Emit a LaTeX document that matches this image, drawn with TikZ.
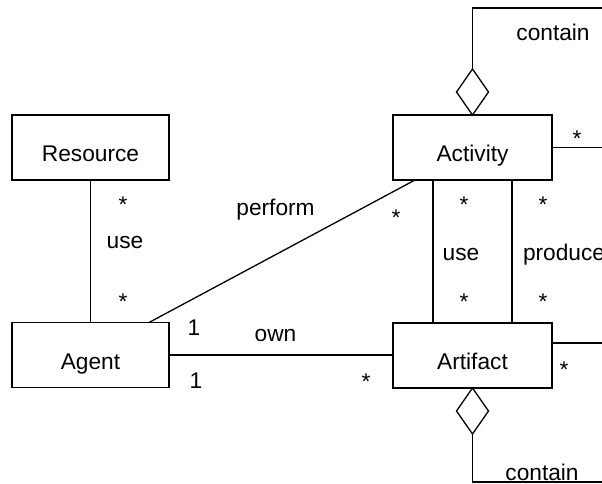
\documentclass[tikz,border=0pt]{standalone}
\usepackage{fontspec}
\setmainfont{Liberation Sans}
\usetikzlibrary{shapes.geometric}
\begin{document}
\begin{tikzpicture}[x=1pt,y=-1pt,
  every node/.style={font=\fontsize{22.7}{27}\selectfont, outer sep=0pt},
  conn/.style={line width=1.3pt},
  classbox/.style={draw, line width=1.3pt, rectangle, minimum width=157pt,
    minimum height=65pt, inner sep=0pt, text height=28.4pt, text depth=0pt},
  aggr/.style={draw, line width=1.3pt, diamond, fill=white, inner sep=0pt,
    minimum width=32pt, minimum height=46pt},
  lbl/.style={anchor=base, inner sep=0pt}
]
\path[use as bounding box, clip] (0,0) rectangle (602,483);

% classes
\node[classbox] (resource) at (90.5,147.5) {Resource};
\node[classbox] (agent) at (90.5,355) {Agent};
\node[classbox, minimum width=159pt] (activity) at (472.5,147.5) {Activity};
\node[classbox, minimum width=159pt] (artifact) at (472.5,355.5) {Artifact};

% free ends of the self associations (beyond the right edge)
\coordinate (edgetop) at (625,8);
\coordinate (edgebot) at (625,482);
\coordinate (edgeright) at (625,0);
\coordinate (artout) at ([yshift=12.5pt]artifact.east);

% associations
\draw[conn] (resource) -- (agent);
\draw[conn] ([xshift=-20pt]agent.north east) -- ([xshift=22pt]activity.south west);
\draw[conn] (agent.east) -- (agent.east -| artifact.west);
\draw[conn] ([xshift=40pt]activity.south west) -- ([xshift=40pt]artifact.north west);
\draw[conn] ([xshift=-40pt]activity.south east) -- ([xshift=-40pt]artifact.north east);
\draw[conn] (activity.east) -- (activity.east -| edgeright);
\draw[conn] (artout) -- (artout -| edgeright);

% aggregations
\node[aggr, anchor=south] (actagg) at (activity.north) {};
\node[aggr, anchor=north] (artagg) at (artifact.south) {};
\draw[conn] (actagg.north) |- (edgetop);
\draw[conn] (artagg.south) |- (edgebot);

% role names and multiplicities
\node[lbl] (l1) at (553,40.5) {contain};
\node[lbl] (l2) at (577,146) {*};
\node[lbl] (l3) at (123,212) {*};
\node[lbl] (l4) at (125,248) {use};
\node[lbl] (l5) at (123,309) {*};
\node[lbl] (l6) at (275.5,215.5) {perform};
\node[lbl] (l7) at (396,225) {*};
\node[lbl] (l8) at (464,212) {*};
\node[lbl] (l9) at (464,309) {*};
\node[lbl] (l10) at (461,260.5) {use};
\node[lbl] (l11) at (543,212) {*};
\node[lbl] (l12) at (543,309) {*};
\node[lbl, anchor=base west] (l13) at (523,260.5) {produce};
\node[lbl] (l14) at (194,335.5) {1};
\node[lbl] (l15) at (275.5,341.5) {own};
\node[lbl] (l16) at (196,388) {1};
\node[lbl] (l17) at (366,389) {*};
\node[lbl] (l18) at (564,377) {*};
\node[lbl] (l19) at (542,480) {contain};
\end{tikzpicture}
\end{document}
